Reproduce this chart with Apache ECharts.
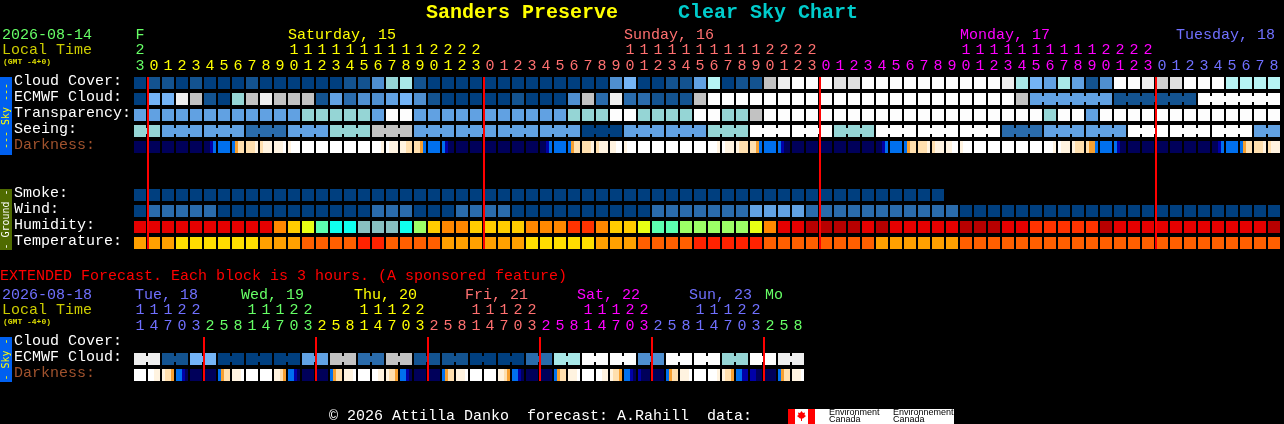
<!DOCTYPE html>
<html><head><meta charset="utf-8">
<style>html,body{margin:0;padding:0;background:#000}#c{width:1284px;height:424px}</style>
<script src="https://cdn.jsdelivr.net/npm/echarts@6/dist/echarts.min.js"></script>
</head><body><div id="c"></div>
<script>
// ---------- labels ----------
const hourUnits = '3'+'012345678901234567890123'+'012345678901234567890123'+'012345678901234567890123'+'012345678';
const hourTens  = '2'+'          11111111112222'+'          11111111112222'+'          11111111112222'+'         ';
const hourDayIdx = [0].concat(Array(24).fill(1),Array(24).fill(2),Array(24).fill(3),Array(9).fill(4));
const mainDayNames = ['F','Saturday, 15','Sunday, 16','Monday, 17','Tuesday, 18'];
const mainDayCols = [0.1,11,35,59,74.43];
const mainMidnights = [1,25,49,73];
const mainRows = ['Cloud Cover:','ECMWF Cloud:','Transparency:','Seeing:','Darkness:','','','Smoke:','Wind:','Humidity:','Temperature:'];

const extUnits = '14703258'+'14703258'+'14703258'+'14703258'+'14703258'+'14703258';
const extTens  = '11122   '+'11122   '+'11122   '+'11122   '+'11122   '+'11122   ';
const extDayIdx = [1,1,1,1,1, 2,2,2,2,2,2,2,2, 3,3,3,3,3,3,3,3, 4,4,4,4,4,4,4,4, 5,5,5,5,5,5,5,5, 6,6,6,6,6,6,6,6, 7,7,7];
const extDayNames = ['Tue, 18','Wed, 19','Thu, 20','Fri, 21','Sat, 22','Sun, 23','Mo'];
const extDayCols = [0.07,7.64,15.71,23.64,31.64,39.64,45.07];
const extMidnights = [5,13,21,29,37,45];
const extRows = ['Cloud Cover:','ECMWF Cloud:','Darkness:'];

// ---------- values (levels) ----------
const cloudCover = [0,1,1,0,1,0,0,0,1,0,0,0,0,0,0,1,1,3,6,7,1,
  0,0,0,0,0,0,0,0,0,0,0,0,0,3,5,0,0,1,1,4,8,0,1,1,9,12,13,13,13,11,11,
  13,13,13,13,13,13,13,13,13,13,12,7,5,4,7,4,1,3,13,13,12,10,11,13,13,13,8,8,8,8];
const ecmwfCloud = [0,5,5,12,9,1,0,6,9,12,9,9,9,1,4,2,3,3,4,5,3,1,0,0,0,0,0,1,0,0,0,3,9,2,12,2,2,1,1,1,9,
  13,13,13,13,13,13,13,13,13,13,13,13,13,13,13,13,13,13,13,13,13,13,9,
  4,4,4,4,4,4,1,1,1,1,1,1,13,13,13,13,13,13];
const transparency = [4,4,4,4,4,4,4,4,4,4,4,4,6,6,6,6,6,4,13,13,4,4,4,4,4,4,4,4,4,4,4,6,6,6,13,13,6,6,6,6,13,13,6,6,9,
  13,13,13,13,13,13,13,13,13,13,13,13,13,13,13,13,13,13,13,13,6,13,13,4,
  13,13,13,13,13,13,13,13,13,13,13,13,13];
const seeing = [6,6,4,4,4,4,4,4,2,2,2,4,4,4,6,6,6,9,9,9,4,4,4,4,4,4,4,4,4,4,4,4,0,0,0,4,4,4,4,4,4,6,6,6,
  13,13,13,13,13,13,6,6,6,13,13,13,13,13,13,13,13,13,2,2,2,4,4,4,4,4,4,
  13,13,13,13,13,13,13,13,13,4,4];
const darkness = ['0000','0000','0000','0000','0000','0012','2222','2344','4445','4555','5556','5666','6666','6666','6666','6666','6666','6665','6555','5544','4432','2222','2100',
  '0000','0000','0000','0000','0000','0000','0012','2222','2344','4445','4555','5566','5666','6666','6666','6666','6666','6666','6665','6555','5444','4432','2222','2100',
  '0000','0000','0000','0000','0000','0000','0012','2222','2344','4445','4555','5566','5666','6666','6666','6666','6666','6666','6665','6555','5444','4332','2222','2100',
  '0000','0000','0000','0000','0000','0000','0012','2222','2344','4445','4555'];
const smoke = [0,0,0,0,0,0,0,0,0,0,0,0,0,0,0,0,0,0,0,0,0,0,0,0,0,0,0,0,0,0,0,0,0,0,0,0,0,0,0,0,0,0,0,0,0,0,0,0,0,0,0,0,0,0,0,0,0,0];
const wind = [0,2,2,2,2,2,0,0,0,0,0,0,0,0,0,0,0,2,2,2,0,0,0,2,2,2,2,0,0,0,0,0,0,0,0,0,0,2,2,2,2,2,2,2,4,4,4,4,
  2,2,2,2,2,2,2,2,2,2,2,0,0,0,0,0,0,0,0,0,0,0,0,0,0,0,0,0,0,0,0,0,0,0];
const humidity = [1,1,1,1,1,1,1,1,1,1,3,4,5,7,8,8,9,9,9,8,6,4,3,3,4,4,4,4,3,3,3,2,2,3,4,4,5,7,7,6,6,6,6,6,5,3,1,1,0,0,0,0,
  1,0,1,1,1,1,1,0,0,0,1,1,2,2,2,2,2,0,1,1,1,1,1,1,1,1,1,1,1,0];
const temperature = [2,2,2,3,3,3,3,3,3,2,2,2,1,1,1,1,0,0,1,1,1,1,2,2,2,2,2,2,3,3,3,3,3,2,2,2,1,1,1,1,0,0,0,0,0,1,1,1,1,1,1,1,1,
  2,2,2,2,2,2,1,1,1,1,1,1,1,1,1,1,1,1,1,1,1,1,1,1,1,1,1,1,1];

const extEcmwf = [12,12,1,1,5,5,0,0,0,0,0,0,4,4,9,9,2,2,9,9,1,1,1,1,0,0,0,0,2,2,7,7,13,13,13,13,3,3,13,13,13,13,6,6,13,13,12,12];
const extDarkness = ['6666','6655','5443','2210','0000','0000','2344','5556','6666','6666','5543','2210','0000','0000','2344','5556',
  '6666','6655','5443','2210','0000','0000','2344','5556','6666','6666','5543','2210','0000','0000','2344','5556',
  '6666','6655','5443','2210','1000','0000','2344','5556','6666','6665','5443','2211','1100','0000','2344','5556'];

// ---------- styles ----------
const MONO = '"Liberation Mono","DejaVu Sans Mono",monospace';
const dayColors = ['#66ff66','#ffff00','#ff7070','#ff00ff','#7070ff'];
const extDayColors = ['#66ff66','#7070ff','#66ff66','#ffff00','#ff7070','#ff00ff','#7070ff','#66ff66'];
const cloudPalette = ['#003f7f','#135390','#2a6bab','#4f8fd0','#61a1e2','#74b4f6','#95d5d5','#a8e8e8','#b6f4f4','#c2c2c2','#cfcfcf','#e0e0e0','#eeeeee','#fdfdfd'];
const humidityPalette = ['#b80000','#e60000','#ff3300','#ff8800','#ffcc00','#e8ff14','#9cff66','#5cffb0','#10ffee','#88c0c0'];
const tempPalette = ['#ff2200','#ff5f00','#ffa000','#ffdd00'];
const darkPalette = ['#00005a','#0000a8','#0070ee','#f7a030','#ffdfae','#fff3e0','#ffffff'];

function cellSeries(name, row, values, colorOf, axis, joined){
  return {
    type:'custom', name, xAxisIndex:axis.x, yAxisIndex:axis.y, silent:true, clip:false, z:2,
    data: values.map((v,i)=>[i,row,i]),
    renderItem(params, api){
      const i = api.value(2);
      const c = api.coord([api.value(0),api.value(1)]);
      const x = c[0]-6, y = c[1]-6;
      const fill = colorOf(values[i]);
      const children = [{type:'rect',shape:{x,y,width:12,height:12},style:{fill}}];
      if (joined && joined(i) && i+1<values.length)
        children.push({type:'rect',shape:{x:x+12,y:y+3,width:2,height:6},style:{fill}});
      return {type:'group',children};
    }
  };
}
const solid = p => v => p[v];
function darkFill(s){
  const n = s.length, stops = [];
  s.split('').forEach((d,k)=>{
    stops.push({offset:k/n,color:darkPalette[+d]},{offset:(k+1)/n,color:darkPalette[+d]});
  });
  return new echarts.graphic.LinearGradient(0,0,1,0,stops);
}
function redLines(cols, first, last, axis){
  return {
    type:'custom', xAxisIndex:axis.x, yAxisIndex:axis.y, silent:true, clip:false, z:5,
    data: cols.map(c=>[c]),
    renderItem(params, api){
      const col = api.value(0);
      const a = api.coord([col,first]), b = api.coord([col,last]);
      return {type:'rect',shape:{x:a[0]-7,y:a[1]-6,width:2,height:b[1]-a[1]+12},style:{fill:'#ff0000'}};
    }
  };
}
function dayLabels(names, cols, colors, axis){
  return {
    type:'custom', xAxisIndex:axis.x, yAxisIndex:axis.y, silent:true, clip:false, z:3,
    data: cols.map((c,i)=>[c,0,i]),
    renderItem(params, api){
      const i = api.value(2);
      const c = api.coord([api.value(0),0]);
      return {type:'text',style:{text:names[i],x:c[0]-6,y:c[1]-48,fill:colors[i],font:'15px '+MONO,align:'left',verticalAlign:'middle'}};
    }
  };
}
const digitAxis = (chars, colorIdx, colors, grid, offset) => ({
  type:'category', gridIndex:grid, position:'top', offset,
  data: chars.split('').map((ch,i)=>({value:ch===' '?'':ch,textStyle:{color:colors[colorIdx[i]]}})),
  axisLine:{show:false}, axisTick:{show:false}, splitLine:{show:false},
  axisLabel:{interval:0,margin:1,fontFamily:MONO,fontSize:15,hideOverlap:false}
});
const rowAxis = (rows, grid) => ({
  type:'category', gridIndex:grid, inverse:true, data:rows,
  axisLine:{show:false}, axisTick:{show:false}, splitLine:{show:false},
  axisLabel:{interval:0,align:'left',verticalAlign:'bottom',lineHeight:4,margin:119,fontFamily:MONO,fontSize:15,
    color:v=>v==='Darkness:'?'#a0522d':'#ffffff'}
});
const text = (t,x,y,fill,size,extra) => Object.assign({type:'text',x,y,silent:true,
  style:{text:t,fill,font:(size||'15px')+' '+MONO,textVerticalAlign:'middle',verticalAlign:'middle'}},extra||{});
const sideBar = (y,h,fill,label,color) => ([
  {type:'rect',silent:true,shape:{x:0,y,width:12,height:h},style:{fill}},
  {type:'text',silent:true,x:6,y:y+h/2,rotation:Math.PI/2,
    style:{text:label,fill:color,font:'10px "DejaVu Sans Mono",monospace',align:'center',verticalAlign:'middle'}}
]);

const M = {x:0,y:0}, E = {x:3,y:1};
const joinSeeing = i => (i+1)%3!==2;
const joinEcmwf = i => i>=64 && (i-64)%6!==5;
const joinExt = i => i%2===0;

const option = {
  backgroundColor:'#000000', animation:false,
  title:[
    {text:'Sanders Preserve',left:426,top:3,padding:0,textStyle:{color:'#ffff00',fontFamily:MONO,fontSize:20,fontWeight:'bold'}},
    {text:'Clear Sky Chart',left:678,top:3,padding:0,textStyle:{color:'#00cccc',fontFamily:MONO,fontSize:20,fontWeight:'bold'}}
  ],
  grid:[
    {left:133,top:75,width:1148,height:176,containLabel:false},
    {left:133,top:335,width:672,height:48,containLabel:false}
  ],
  xAxis:[
    {type:'value',gridIndex:0,min:-0.5,max:81.5,show:false},
    digitAxis(hourUnits,hourDayIdx,dayColors,0,0),
    digitAxis(hourTens,hourDayIdx,dayColors,0,16),
    {type:'value',gridIndex:1,min:-0.5,max:47.5,show:false},
    digitAxis(extUnits,extDayIdx,extDayColors,1,0),
    digitAxis(extTens,extDayIdx,extDayColors,1,16)
  ],
  yAxis:[rowAxis(mainRows,0),rowAxis(extRows,1)],
  series:[
    cellSeries('Cloud Cover',0,cloudCover,solid(cloudPalette),M),
    cellSeries('ECMWF Cloud',1,ecmwfCloud,solid(cloudPalette),M,joinEcmwf),
    cellSeries('Transparency',2,transparency,solid(cloudPalette),M),
    cellSeries('Seeing',3,seeing,solid(cloudPalette),M,joinSeeing),
    cellSeries('Darkness',4,darkness,darkFill,M),
    cellSeries('Smoke',7,smoke,solid(cloudPalette),M),
    cellSeries('Wind',8,wind,solid(cloudPalette),M),
    cellSeries('Humidity',9,humidity,solid(humidityPalette),M),
    cellSeries('Temperature',10,temperature,solid(tempPalette),M),
    redLines(mainMidnights,0,10,M),
    dayLabels(mainDayNames,mainDayCols,['#66ff66','#ffff00','#ff7070','#ff00ff','#7070ff'],M),
    cellSeries('Ext ECMWF Cloud',1,extEcmwf,solid(cloudPalette),E,joinExt),
    cellSeries('Ext Darkness',2,extDarkness,darkFill,E),
    redLines(extMidnights,0,2,E),
    dayLabels(extDayNames,extDayCols,['#7070ff','#66ff66','#ffff00','#ff7070','#ff00ff','#7070ff','#66ff66'],E)
  ],
  graphic:{elements:[
    text('2026-08-14',2,35,'#66ff66'),
    text('Local Time',2,50,'#cccc00'),
    text('(GMT -4+0)',3,62,'#dddd00','bold 8px'),
    text('EXTENDED Forecast. Each block is 3 hours. (A sponsored feature)',0,276,'#ff0000'),
    text('2026-08-18',2,295,'#7070ff'),
    text('Local Time',2,310,'#cccc00'),
    text('(GMT -4+0)',3,322,'#dddd00','bold 8px'),
    text('\u00a9 2026 Attilla Danko  forecast: A.Rahill  data:',329,416,'#ffffff'),
    ...sideBar(77,78,'#0060f0','--- Sky ---','#ffff00'),
    ...sideBar(189,61,'#4f6b00','- Ground -','#ffffff'),
    ...sideBar(337,45,'#0060f0','- Sky -','#ffff00'),
    {type:'rect',silent:true,shape:{x:788,y:409,width:166,height:15},style:{fill:'#ffffff'}},
    {type:'rect',silent:true,shape:{x:788,y:409,width:7,height:15},style:{fill:'#ff0000'}},
    {type:'rect',silent:true,shape:{x:808,y:409,width:7,height:15},style:{fill:'#ff0000'}},
    {type:'polygon',silent:true,shape:{points:[[801.5,411],[803,413],[805,412.5],[804.5,415],[806,416],[803,418.5],[802,418.5],[802,421],[801,421],[801,418.5],[800,418.5],[797,416],[798.5,415],[798,412.5],[800,413]]},style:{fill:'#ff0000'}},
    {type:'text',silent:true,x:829,y:412.5,style:{text:'Environment',fill:'#000000',font:'9px "Liberation Sans",sans-serif',verticalAlign:'middle'}},
    {type:'text',silent:true,x:829,y:420,style:{text:'Canada',fill:'#000000',font:'9px "Liberation Sans",sans-serif',verticalAlign:'middle'}},
    {type:'text',silent:true,x:893,y:412.5,style:{text:'Environnement',fill:'#000000',font:'9px "Liberation Sans",sans-serif',verticalAlign:'middle'}},
    {type:'text',silent:true,x:893,y:420,style:{text:'Canada',fill:'#000000',font:'9px "Liberation Sans",sans-serif',verticalAlign:'middle'}}
  ]}
};
echarts.init(document.getElementById('c')).setOption(option);
</script></body></html>
